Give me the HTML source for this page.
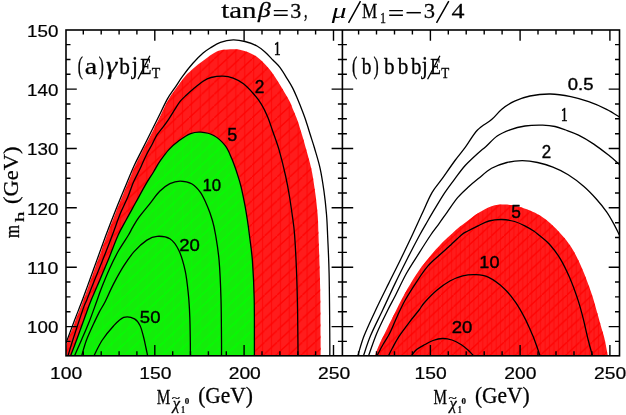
<!DOCTYPE html><html><head><meta charset="utf-8"><style>html,body{margin:0;padding:0;background:#fff}svg{display:block}text{fill:#000}</style></head><body>
<svg width="626" height="415" viewBox="0 0 626 415">
<defs>
<pattern id="hr" width="8.9" height="9" patternUnits="userSpaceOnUse">
<rect width="8.9" height="9" fill="#ff1c1c"/>
<path d="M4.5,0V9" stroke="#ff0a0a" stroke-width="1.2"/>
</pattern>
<pattern id="hrb" width="4.45" height="9" patternUnits="userSpaceOnUse">
<rect width="4.45" height="9" fill="#ff1c1c"/>
<path d="M2.2,0V9" stroke="#ff0c0c" stroke-width="1.1"/>
</pattern>
<pattern id="hrd" width="12.6" height="11.8" patternUnits="userSpaceOnUse">
<path d="M-1.26,12.98L13.86,-1.18" stroke="#ff0202" stroke-width="1.3" fill="none"/>
</pattern>
<pattern id="hg" width="8.9" height="9" patternUnits="userSpaceOnUse">
<rect width="8.9" height="9" fill="#14ec0a"/>
<path d="M4.5,0V9" stroke="#0cf406" stroke-width="1.2"/>
</pattern>
<pattern id="hgd" width="12.6" height="11.8" patternUnits="userSpaceOnUse">
<path d="M-1.26,12.98L13.86,-1.18" stroke="#03fd01" stroke-width="1.3" fill="none"/>
</pattern>
<clipPath id="ca"><rect x="66.0" y="30.0" width="276.4" height="325.8"/></clipPath>
<clipPath id="cb"><rect x="342.4" y="30.0" width="277.1" height="325.8"/></clipPath>
</defs>
<rect width="626" height="415" fill="#fff"/>
<g clip-path="url(#ca)">
<path d="M66.5,356.0 C66.6,353.8 65.6,348.7 67.0,343.0 C68.4,337.3 72.3,328.9 75.0,321.7 C77.7,314.5 81.2,305.9 83.4,300.0 C85.7,294.1 86.1,292.7 88.5,286.1 C90.9,279.5 94.6,269.1 97.7,260.6 C100.8,252.1 103.8,243.6 107.0,235.0 C110.2,226.4 113.9,216.9 117.0,209.2 C120.1,201.5 122.4,196.0 125.4,188.8 C128.4,181.6 132.2,172.2 135.1,165.8 C138.0,159.4 139.8,156.4 142.8,150.4 C145.8,144.4 150.3,136.0 153.3,130.0 C156.3,124.0 158.4,119.6 160.9,114.5 C163.4,109.4 166.0,103.8 168.6,99.3 C171.2,94.8 173.7,91.5 176.4,87.8 C179.1,84.1 182.2,79.8 184.6,77.0 C187.0,74.2 188.6,72.9 190.8,70.8 C193.0,68.7 195.1,66.9 198.0,64.6 C200.9,62.3 205.4,59.0 208.2,57.0 C211.0,55.0 212.5,53.7 215.0,52.5 C217.5,51.3 219.5,50.3 223.0,49.8 C226.5,49.2 232.4,49.0 235.8,49.2 C239.2,49.4 240.7,49.8 243.7,50.8 C246.7,51.8 250.9,53.3 253.9,55.0 C256.9,56.7 259.2,58.6 261.8,61.0 C264.4,63.4 267.1,66.2 269.7,69.4 C272.3,72.6 274.8,76.4 277.3,80.4 C279.9,84.4 282.9,89.6 285.0,93.2 C287.1,96.8 288.8,99.6 290.1,102.2 C291.4,104.8 291.6,105.9 292.8,109.0 C294.1,112.1 296.1,116.5 297.6,120.8 C299.1,125.1 300.6,130.3 302.0,134.8 C303.4,139.3 304.2,142.2 305.7,147.8 C307.2,153.4 309.6,161.1 311.2,168.3 C312.8,175.6 313.9,183.6 315.0,191.3 C316.1,199.0 317.0,207.0 317.6,214.3 C318.2,221.6 318.1,223.0 318.5,235.0 C318.9,247.0 319.8,268.6 320.1,286.1 C320.5,303.6 320.5,328.4 320.6,340.0 C320.7,351.6 320.6,353.3 320.6,356.0 Z" fill="url(#hr)"/><path d="M66.5,356.0 C66.6,353.8 65.6,348.7 67.0,343.0 C68.4,337.3 72.3,328.9 75.0,321.7 C77.7,314.5 81.2,305.9 83.4,300.0 C85.7,294.1 86.1,292.7 88.5,286.1 C90.9,279.5 94.6,269.1 97.7,260.6 C100.8,252.1 103.8,243.6 107.0,235.0 C110.2,226.4 113.9,216.9 117.0,209.2 C120.1,201.5 122.4,196.0 125.4,188.8 C128.4,181.6 132.2,172.2 135.1,165.8 C138.0,159.4 139.8,156.4 142.8,150.4 C145.8,144.4 150.3,136.0 153.3,130.0 C156.3,124.0 158.4,119.6 160.9,114.5 C163.4,109.4 166.0,103.8 168.6,99.3 C171.2,94.8 173.7,91.5 176.4,87.8 C179.1,84.1 182.2,79.8 184.6,77.0 C187.0,74.2 188.6,72.9 190.8,70.8 C193.0,68.7 195.1,66.9 198.0,64.6 C200.9,62.3 205.4,59.0 208.2,57.0 C211.0,55.0 212.5,53.7 215.0,52.5 C217.5,51.3 219.5,50.3 223.0,49.8 C226.5,49.2 232.4,49.0 235.8,49.2 C239.2,49.4 240.7,49.8 243.7,50.8 C246.7,51.8 250.9,53.3 253.9,55.0 C256.9,56.7 259.2,58.6 261.8,61.0 C264.4,63.4 267.1,66.2 269.7,69.4 C272.3,72.6 274.8,76.4 277.3,80.4 C279.9,84.4 282.9,89.6 285.0,93.2 C287.1,96.8 288.8,99.6 290.1,102.2 C291.4,104.8 291.6,105.9 292.8,109.0 C294.1,112.1 296.1,116.5 297.6,120.8 C299.1,125.1 300.6,130.3 302.0,134.8 C303.4,139.3 304.2,142.2 305.7,147.8 C307.2,153.4 309.6,161.1 311.2,168.3 C312.8,175.6 313.9,183.6 315.0,191.3 C316.1,199.0 317.0,207.0 317.6,214.3 C318.2,221.6 318.1,223.0 318.5,235.0 C318.9,247.0 319.8,268.6 320.1,286.1 C320.5,303.6 320.5,328.4 320.6,340.0 C320.7,351.6 320.6,353.3 320.6,356.0 Z" fill="url(#hrd)"/>
<path d="M70.6,355.7 C71.6,353.1 73.9,347.3 76.6,340.0 C79.3,332.7 84.4,318.4 86.8,311.7 C89.2,305.0 89.5,304.3 91.2,300.0 C92.9,295.7 94.4,292.7 97.2,286.1 C100.0,279.5 104.5,269.1 108.0,260.6 C111.5,252.1 115.1,241.8 118.2,235.0 C121.3,228.2 123.5,224.9 126.4,219.5 C129.3,214.1 132.3,208.8 135.6,202.8 C138.9,196.8 143.2,188.8 146.2,183.7 C149.2,178.6 151.2,175.8 153.5,172.0 C155.8,168.2 157.4,164.9 160.0,161.2 C162.6,157.5 165.7,153.0 168.9,149.6 C172.1,146.2 175.6,143.3 179.2,140.6 C182.8,137.9 187.1,135.0 190.7,133.6 C194.3,132.2 197.1,131.9 200.9,132.2 C204.7,132.5 209.6,133.3 213.7,135.5 C217.8,137.7 222.2,141.8 225.2,145.6 C228.2,149.4 229.7,153.9 231.6,158.3 C233.5,162.7 235.1,167.3 236.7,172.0 C238.2,176.7 239.6,180.8 240.9,186.2 C242.2,191.5 243.6,198.5 244.7,204.1 C245.8,209.7 246.5,214.3 247.3,219.5 C248.1,224.7 248.6,228.2 249.4,235.0 C250.2,241.8 251.6,250.0 252.4,260.6 C253.2,271.2 253.9,285.7 254.2,298.9 C254.5,312.1 254.4,330.5 254.4,340.0 C254.4,349.5 254.4,353.3 254.4,356.0 Z" fill="url(#hg)"/><path d="M70.6,355.7 C71.6,353.1 73.9,347.3 76.6,340.0 C79.3,332.7 84.4,318.4 86.8,311.7 C89.2,305.0 89.5,304.3 91.2,300.0 C92.9,295.7 94.4,292.7 97.2,286.1 C100.0,279.5 104.5,269.1 108.0,260.6 C111.5,252.1 115.1,241.8 118.2,235.0 C121.3,228.2 123.5,224.9 126.4,219.5 C129.3,214.1 132.3,208.8 135.6,202.8 C138.9,196.8 143.2,188.8 146.2,183.7 C149.2,178.6 151.2,175.8 153.5,172.0 C155.8,168.2 157.4,164.9 160.0,161.2 C162.6,157.5 165.7,153.0 168.9,149.6 C172.1,146.2 175.6,143.3 179.2,140.6 C182.8,137.9 187.1,135.0 190.7,133.6 C194.3,132.2 197.1,131.9 200.9,132.2 C204.7,132.5 209.6,133.3 213.7,135.5 C217.8,137.7 222.2,141.8 225.2,145.6 C228.2,149.4 229.7,153.9 231.6,158.3 C233.5,162.7 235.1,167.3 236.7,172.0 C238.2,176.7 239.6,180.8 240.9,186.2 C242.2,191.5 243.6,198.5 244.7,204.1 C245.8,209.7 246.5,214.3 247.3,219.5 C248.1,224.7 248.6,228.2 249.4,235.0 C250.2,241.8 251.6,250.0 252.4,260.6 C253.2,271.2 253.9,285.7 254.2,298.9 C254.5,312.1 254.4,330.5 254.4,340.0 C254.4,349.5 254.4,353.3 254.4,356.0 Z" fill="url(#hgd)"/>
<path d="M66.0,343.0 C67.3,339.4 71.3,328.9 74.0,321.7 C76.7,314.5 80.2,305.9 82.4,300.0 C84.7,294.1 85.1,292.7 87.5,286.1 C89.9,279.5 93.6,269.1 96.7,260.6 C99.8,252.1 102.8,243.6 106.0,235.0 C109.2,226.4 112.9,216.9 116.0,209.2 C119.1,201.5 121.4,196.0 124.4,188.8 C127.4,181.6 131.2,172.2 134.1,165.8 C137.0,159.4 138.8,156.4 141.8,150.4 C144.8,144.4 149.0,136.0 152.0,130.0 C155.0,124.0 157.1,119.7 159.7,114.5 C162.2,109.3 164.8,103.6 167.3,99.1 C169.9,94.6 172.4,91.4 175.0,87.6 C177.6,83.8 179.7,80.1 182.7,76.1 C185.7,72.0 189.5,67.1 192.9,63.3 C196.3,59.5 200.2,55.6 203.1,53.1 C206.0,50.6 207.3,49.8 210.2,48.0 C213.1,46.2 216.6,43.8 220.4,42.4 C224.2,41.0 229.1,40.0 233.2,39.9 C237.3,39.8 241.0,40.5 245.0,41.5 C249.0,42.5 253.7,44.2 257.0,46.0 C260.3,47.8 262.4,49.7 265.0,52.0 C267.6,54.3 270.4,57.4 272.9,60.0 C275.4,62.6 277.7,64.5 279.9,67.4 C282.1,70.3 284.2,73.8 286.3,77.3 C288.4,80.8 290.8,84.4 292.7,88.1 C294.6,91.8 296.4,96.3 297.8,99.6 C299.2,102.9 299.9,104.5 301.2,108.0 C302.5,111.5 304.4,116.3 305.9,120.8 C307.4,125.3 308.9,130.3 310.3,134.8 C311.7,139.3 312.8,142.2 314.4,147.8 C316.0,153.4 318.5,161.1 320.1,168.3 C321.7,175.6 322.9,183.6 324.0,191.3 C325.1,199.0 325.9,207.0 326.5,214.3 C327.1,221.6 327.2,225.2 327.6,235.0 C328.0,244.8 328.7,255.8 329.1,273.3 C329.5,290.8 329.7,326.2 329.8,340.0 C329.9,353.8 329.8,353.3 329.8,356.0" fill="none" stroke="#000" stroke-width="1.3"/>
<path d="M68.0,355.7 C68.8,353.1 70.3,347.8 72.8,340.0 C75.3,332.2 80.7,315.8 83.0,309.1 C85.3,302.4 85.1,304.2 86.8,300.0 C88.5,295.8 90.4,290.6 93.2,283.6 C96.0,276.6 100.3,266.1 103.5,258.0 C106.7,249.9 109.7,242.3 112.4,235.0 C115.2,227.7 117.4,220.7 120.0,214.3 C122.6,207.9 125.7,202.2 127.9,196.8 C130.2,191.4 131.5,186.7 133.5,182.1 C135.5,177.5 137.7,173.8 139.8,169.3 C141.9,164.8 144.1,159.4 146.2,155.2 C148.3,151.0 150.5,147.4 152.3,144.0 C154.1,140.6 155.4,137.2 157.1,134.6 C158.8,132.0 160.3,130.8 162.2,128.2 C164.1,125.6 166.5,122.5 168.6,119.3 C170.7,116.1 173.1,112.1 175.0,109.1 C176.9,106.1 178.2,103.8 180.1,101.4 C182.0,99.1 184.3,97.1 186.5,95.0 C188.7,92.9 190.7,91.0 193.5,88.7 C196.3,86.4 200.2,83.1 203.1,81.2 C206.0,79.3 207.7,78.3 211.0,77.5 C214.3,76.7 219.3,76.0 223.0,76.1 C226.7,76.2 229.8,76.9 233.2,78.2 C236.6,79.5 240.1,81.2 243.5,83.8 C246.9,86.4 250.7,90.6 253.7,94.0 C256.7,97.4 259.0,100.4 261.3,104.2 C263.6,108.0 265.9,112.7 267.7,117.0 C269.5,121.3 270.4,124.4 272.3,130.0 C274.2,135.6 277.0,142.7 279.2,150.4 C281.4,158.1 283.9,168.3 285.6,176.0 C287.3,183.7 288.4,189.7 289.5,196.5 C290.6,203.3 291.6,210.5 292.5,216.9 C293.4,223.3 293.9,225.6 294.6,235.0 C295.3,244.4 296.1,260.5 296.6,273.3 C297.1,286.1 297.4,300.6 297.6,311.7 C297.8,322.8 297.8,332.6 297.9,340.0 C298.0,347.4 298.0,353.3 298.0,356.0" fill="none" stroke="#000" stroke-width="1.3"/>
<path d="M70.6,355.7 C71.6,353.1 73.9,347.3 76.6,340.0 C79.3,332.7 84.4,318.4 86.8,311.7 C89.2,305.0 89.5,304.3 91.2,300.0 C92.9,295.7 94.4,292.7 97.2,286.1 C100.0,279.5 104.5,269.1 108.0,260.6 C111.5,252.1 115.1,241.8 118.2,235.0 C121.3,228.2 123.5,224.9 126.4,219.5 C129.3,214.1 132.3,208.8 135.6,202.8 C138.9,196.8 143.2,188.8 146.2,183.7 C149.2,178.6 151.2,175.8 153.5,172.0 C155.8,168.2 157.4,164.9 160.0,161.2 C162.6,157.5 165.7,153.0 168.9,149.6 C172.1,146.2 175.6,143.3 179.2,140.6 C182.8,137.9 187.1,135.0 190.7,133.6 C194.3,132.2 197.1,131.9 200.9,132.2 C204.7,132.5 209.6,133.3 213.7,135.5 C217.8,137.7 222.2,141.8 225.2,145.6 C228.2,149.4 229.7,153.9 231.6,158.3 C233.5,162.7 235.1,167.3 236.7,172.0 C238.2,176.7 239.6,180.8 240.9,186.2 C242.2,191.5 243.6,198.5 244.7,204.1 C245.8,209.7 246.5,214.3 247.3,219.5 C248.1,224.7 248.6,228.2 249.4,235.0 C250.2,241.8 251.6,250.0 252.4,260.6 C253.2,271.2 253.9,285.7 254.2,298.9 C254.5,312.1 254.4,330.5 254.4,340.0 C254.4,349.5 254.4,353.3 254.4,356.0" fill="none" stroke="#000" stroke-width="1.3"/>
<path d="M74.5,355.7 C75.7,353.0 79.2,345.3 81.7,339.5 C84.2,333.7 86.9,327.6 89.5,321.0 C92.1,314.4 95.2,305.4 97.2,300.0 C99.2,294.6 99.1,294.0 101.2,288.7 C103.3,283.4 106.9,274.6 109.8,268.2 C112.7,261.8 115.7,255.8 118.8,250.3 C121.9,244.8 126.2,238.9 128.5,235.0 C130.8,231.1 131.0,230.1 132.8,227.1 C134.6,224.1 136.4,220.7 139.2,216.9 C142.0,213.1 146.1,208.4 149.5,204.1 C152.9,199.8 156.3,194.7 159.7,191.3 C163.1,187.9 166.5,185.4 169.9,183.7 C173.3,182.0 176.5,181.1 180.1,181.1 C183.7,181.1 188.2,181.8 191.6,183.7 C195.0,185.6 198.0,188.9 200.6,192.6 C203.2,196.3 205.3,201.3 207.3,206.0 C209.3,210.7 211.1,215.9 212.5,220.7 C213.9,225.5 214.5,228.3 215.6,235.0 C216.7,241.7 218.2,250.0 219.1,260.6 C220.0,271.2 220.6,285.7 221.0,298.9 C221.4,312.1 221.4,330.5 221.5,340.0 C221.6,349.5 221.5,353.3 221.5,356.0" fill="none" stroke="#000" stroke-width="1.3"/>
<path d="M81.7,355.7 C82.5,353.1 84.4,345.6 86.5,340.0 C88.6,334.4 92.3,326.6 94.5,321.9 C96.7,317.2 97.8,314.9 99.5,311.6 C101.2,308.3 102.6,306.7 105.0,302.0 C107.4,297.3 110.5,289.7 113.7,283.6 C116.9,277.6 120.5,271.0 123.9,265.7 C127.3,260.4 130.3,255.9 134.1,251.6 C137.9,247.3 143.1,242.6 146.9,240.1 C150.7,237.6 153.3,236.5 157.1,236.3 C160.9,236.1 166.3,236.5 169.9,238.8 C173.5,241.1 176.2,245.0 178.8,250.3 C181.4,255.6 183.6,263.6 185.2,270.8 C186.8,278.1 187.5,286.1 188.3,293.8 C189.1,301.5 189.5,309.1 189.8,316.8 C190.1,324.5 190.2,333.5 190.3,340.0 C190.4,346.5 190.4,353.3 190.4,356.0" fill="none" stroke="#000" stroke-width="1.3"/>
<path d="M94.0,355.7 C95.3,353.2 98.8,345.4 102.0,340.5 C105.2,335.6 109.9,329.9 113.5,326.0 C117.1,322.1 120.2,318.6 123.7,317.4 C127.2,316.2 131.8,317.4 134.5,318.8 C137.2,320.2 138.4,322.3 140.0,325.5 C141.6,328.7 142.8,334.2 143.8,338.0 C144.8,341.8 145.3,345.0 146.0,348.0 C146.7,351.0 147.4,354.7 147.7,356.0" fill="none" stroke="#000" stroke-width="1.3"/>
</g>
<g clip-path="url(#cb)">
<path d="M375.0,355.7 C375.5,354.2 376.3,351.3 378.2,347.0 C380.1,342.7 383.5,336.0 386.5,329.8 C389.5,323.6 392.8,316.9 396.3,310.0 C399.8,303.1 403.9,295.2 407.6,288.6 C411.4,282.1 414.9,276.3 418.8,270.7 C422.7,265.1 427.5,259.4 431.1,255.0 C434.7,250.6 437.4,247.8 440.5,244.5 C443.6,241.2 447.0,238.2 449.9,235.5 C452.8,232.8 454.6,230.9 457.6,228.4 C460.6,225.9 464.3,223.3 467.8,220.7 C471.3,218.1 474.4,215.4 478.4,213.0 C482.4,210.6 487.3,207.6 491.6,206.2 C495.9,204.8 500.1,204.6 504.3,204.6 C508.6,204.6 512.8,205.2 517.1,206.2 C521.4,207.2 526.1,208.9 529.9,210.5 C533.7,212.1 536.7,213.5 540.1,215.6 C543.5,217.7 546.7,220.1 550.3,223.3 C553.9,226.5 558.4,231.1 561.8,235.0 C565.2,238.9 568.0,242.2 570.8,246.5 C573.6,250.8 576.0,255.3 578.5,260.6 C581.0,265.9 583.8,272.4 586.1,278.4 C588.4,284.3 590.6,290.3 592.5,296.3 C594.4,302.3 595.9,308.2 597.6,314.2 C599.3,320.2 601.5,327.8 602.7,332.1 C603.9,336.4 603.9,336.0 604.8,340.0 C605.7,344.0 607.4,353.3 607.9,356.0 Z" fill="url(#hrb)"/><path d="M375.0,355.7 C375.5,354.2 376.3,351.3 378.2,347.0 C380.1,342.7 383.5,336.0 386.5,329.8 C389.5,323.6 392.8,316.9 396.3,310.0 C399.8,303.1 403.9,295.2 407.6,288.6 C411.4,282.1 414.9,276.3 418.8,270.7 C422.7,265.1 427.5,259.4 431.1,255.0 C434.7,250.6 437.4,247.8 440.5,244.5 C443.6,241.2 447.0,238.2 449.9,235.5 C452.8,232.8 454.6,230.9 457.6,228.4 C460.6,225.9 464.3,223.3 467.8,220.7 C471.3,218.1 474.4,215.4 478.4,213.0 C482.4,210.6 487.3,207.6 491.6,206.2 C495.9,204.8 500.1,204.6 504.3,204.6 C508.6,204.6 512.8,205.2 517.1,206.2 C521.4,207.2 526.1,208.9 529.9,210.5 C533.7,212.1 536.7,213.5 540.1,215.6 C543.5,217.7 546.7,220.1 550.3,223.3 C553.9,226.5 558.4,231.1 561.8,235.0 C565.2,238.9 568.0,242.2 570.8,246.5 C573.6,250.8 576.0,255.3 578.5,260.6 C581.0,265.9 583.8,272.4 586.1,278.4 C588.4,284.3 590.6,290.3 592.5,296.3 C594.4,302.3 595.9,308.2 597.6,314.2 C599.3,320.2 601.5,327.8 602.7,332.1 C603.9,336.4 603.9,336.0 604.8,340.0 C605.7,344.0 607.4,353.3 607.9,356.0 Z" fill="url(#hrd)"/>
<path d="M357.8,355.7 C358.9,352.4 361.2,343.2 364.2,335.6 C367.2,328.0 371.6,318.7 375.7,310.0 C379.8,301.3 384.3,292.3 388.6,283.6 C392.9,274.9 397.4,266.1 401.3,258.0 C405.2,249.9 408.9,242.3 412.3,235.0 C415.7,227.7 418.5,221.4 421.8,214.3 C425.1,207.2 428.6,198.5 432.0,192.6 C435.4,186.7 438.4,184.0 442.2,178.7 C446.0,173.3 451.2,165.7 455.0,160.5 C458.8,155.3 461.4,152.5 465.2,147.4 C468.9,142.3 473.1,134.6 477.5,130.0 C481.9,125.4 487.6,123.0 491.6,119.6 C495.7,116.1 498.0,112.4 501.8,109.3 C505.6,106.2 509.9,103.4 514.6,101.2 C519.3,99.0 524.0,97.2 529.9,96.0 C535.8,94.8 543.5,93.9 550.3,94.0 C557.1,94.1 564.4,95.3 570.8,96.6 C577.2,97.9 582.7,99.6 588.7,101.7 C594.7,103.8 601.5,106.8 606.6,109.3 C611.7,111.8 617.3,115.7 619.4,117.0" fill="none" stroke="#000" stroke-width="1.3"/>
<path d="M363.5,355.7 C364.7,352.4 367.4,343.2 370.6,335.6 C373.8,328.0 378.6,318.7 382.7,310.0 C386.8,301.3 390.8,292.3 395.0,283.6 C399.2,274.9 403.6,266.1 407.7,258.0 C411.8,249.9 416.7,240.6 419.7,235.0 C422.7,229.4 423.1,228.9 425.6,224.6 C428.1,220.3 431.4,214.5 434.6,209.2 C437.8,203.9 441.4,197.7 444.8,192.6 C448.2,187.5 451.6,183.1 455.0,178.6 C458.4,174.1 461.4,169.7 465.2,165.5 C469.0,161.3 474.5,156.4 478.0,153.2 C481.5,150.0 482.8,149.3 486.0,146.4 C489.2,143.5 493.2,138.8 497.2,136.0 C501.2,133.2 505.4,131.5 510.0,129.8 C514.6,128.1 519.5,126.8 525.0,126.0 C530.5,125.2 537.7,125.1 542.7,125.2 C547.7,125.3 551.2,125.7 555.0,126.5 C558.8,127.3 561.8,128.6 565.7,130.0 C569.6,131.4 573.8,132.8 578.5,135.1 C583.2,137.4 588.7,140.7 593.8,144.1 C598.9,147.5 604.8,152.2 609.1,155.6 C613.4,159.0 617.7,163.0 619.4,164.5" fill="none" stroke="#000" stroke-width="1.3"/>
<path d="M368.6,355.7 C370.0,351.9 373.7,340.6 376.9,333.0 C380.1,325.4 384.8,316.1 387.8,310.0 C390.8,303.9 391.9,302.4 395.0,296.3 C398.1,290.2 402.5,280.5 406.5,273.3 C410.5,266.1 415.2,259.3 419.2,252.9 C423.2,246.5 427.5,239.7 430.7,235.0 C433.9,230.3 435.6,228.5 438.4,224.6 C441.2,220.7 444.2,216.3 447.4,211.8 C450.6,207.3 454.2,201.8 457.6,197.7 C461.0,193.6 464.3,190.7 467.8,187.5 C471.3,184.3 474.4,181.7 478.4,178.5 C482.4,175.3 486.9,171.0 491.6,168.3 C496.4,165.6 501.8,163.8 506.9,162.5 C512.0,161.2 517.1,160.7 522.2,160.7 C527.3,160.7 532.5,161.4 537.6,162.5 C542.7,163.6 547.8,165.1 552.9,167.1 C558.0,169.1 563.1,171.5 568.2,174.7 C573.3,177.9 578.9,182.1 583.6,186.2 C588.3,190.2 592.5,194.7 596.3,199.0 C600.1,203.3 603.6,207.5 606.6,211.8 C609.6,216.1 612.1,220.7 614.2,224.6 C616.3,228.5 618.5,233.3 619.4,235.0" fill="none" stroke="#000" stroke-width="1.3"/>
<path d="M377.0,355.7 C378.1,353.8 381.2,347.7 383.3,344.0 C385.4,340.3 387.3,338.1 389.7,333.3 C392.1,328.5 395.0,321.0 397.6,315.4 C400.2,309.8 402.2,305.3 405.4,299.7 C408.6,294.1 412.9,287.4 416.6,281.8 C420.3,276.2 423.9,270.8 427.8,266.2 C431.7,261.6 436.7,257.7 440.1,254.5 C443.6,251.3 444.9,250.2 448.5,247.0 C452.1,243.8 458.2,237.7 461.4,235.0 C464.6,232.3 465.0,232.5 467.8,231.0 C470.6,229.5 474.5,227.5 478.0,225.8 C481.5,224.1 485.0,222.1 489.0,221.0 C493.0,219.9 497.5,219.4 501.8,219.5 C506.1,219.6 510.8,220.4 514.6,221.5 C518.4,222.6 521.6,224.2 524.8,225.8 C528.0,227.4 531.4,229.5 533.7,231.0 C536.0,232.5 536.0,232.6 538.8,235.0 C541.6,237.4 546.7,241.1 550.3,245.2 C553.9,249.2 557.4,254.0 560.6,259.3 C563.8,264.6 566.7,270.8 569.5,277.2 C572.3,283.6 574.9,290.8 577.2,297.6 C579.5,304.4 581.3,311.0 583.1,318.1 C584.9,325.2 586.6,333.7 588.2,340.0 C589.8,346.3 591.8,353.3 592.5,356.0" fill="none" stroke="#000" stroke-width="1.3"/>
<path d="M388.5,355.7 C389.1,354.5 390.6,351.4 392.3,348.3 C394.0,345.2 395.9,341.1 398.7,336.8 C401.5,332.6 405.5,327.3 408.9,322.8 C412.3,318.3 416.5,313.4 419.1,310.0 C421.7,306.6 421.3,306.0 424.3,302.7 C427.3,299.4 432.8,293.6 437.1,290.0 C441.4,286.4 445.6,283.4 449.9,281.0 C454.2,278.6 458.4,277.0 462.7,275.9 C467.0,274.8 471.2,274.4 475.5,274.6 C479.8,274.8 483.4,274.9 488.2,277.2 C493.0,279.5 499.7,284.4 504.3,288.7 C508.9,292.9 512.4,297.8 515.8,302.7 C519.2,307.6 522.2,313.2 524.8,318.1 C527.4,323.0 529.6,328.5 531.2,332.1 C532.8,335.8 533.0,336.0 534.5,340.0 C536.0,344.0 539.2,353.3 540.1,356.0" fill="none" stroke="#000" stroke-width="1.3"/>
<path d="M411.5,355.7 C412.4,354.7 414.4,351.5 416.6,349.6 C418.9,347.7 422.3,346.0 425.0,344.5 C427.7,343.0 430.1,341.5 433.0,340.5 C435.9,339.5 439.3,338.6 442.5,338.5 C445.7,338.4 448.9,339.0 452.0,340.0 C455.1,341.0 458.3,342.8 461.0,344.5 C463.7,346.2 465.9,348.1 468.0,350.0 C470.1,351.9 472.6,354.8 473.5,355.7" fill="none" stroke="#000" stroke-width="1.3"/>
</g>
<g stroke="#000" stroke-width="1.6" fill="none">
<rect x="66.0" y="30.0" width="553.5" height="325.8"/>
<path d="M342.4,30.0V355.8"/>
</g>
<path d="M66.0,341.4h4.5M337.9,341.4h9.0M615.0,341.4h4.5M66.0,326.6h10.8M331.6,326.6h21.6M608.7,326.6h10.8M66.0,311.7h4.5M337.9,311.7h9.0M615.0,311.7h4.5M66.0,296.9h4.5M337.9,296.9h9.0M615.0,296.9h4.5M66.0,282.0h4.5M337.9,282.0h9.0M615.0,282.0h4.5M66.0,267.2h10.8M331.6,267.2h21.6M608.7,267.2h10.8M66.0,252.4h4.5M337.9,252.4h9.0M615.0,252.4h4.5M66.0,237.5h4.5M337.9,237.5h9.0M615.0,237.5h4.5M66.0,222.7h4.5M337.9,222.7h9.0M615.0,222.7h4.5M66.0,207.8h10.8M331.6,207.8h21.6M608.7,207.8h10.8M66.0,193.0h4.5M337.9,193.0h9.0M615.0,193.0h4.5M66.0,178.2h4.5M337.9,178.2h9.0M615.0,178.2h4.5M66.0,163.3h4.5M337.9,163.3h9.0M615.0,163.3h4.5M66.0,148.5h10.8M331.6,148.5h21.6M608.7,148.5h10.8M66.0,133.7h4.5M337.9,133.7h9.0M615.0,133.7h4.5M66.0,118.8h4.5M337.9,118.8h9.0M615.0,118.8h4.5M66.0,104.0h4.5M337.9,104.0h9.0M615.0,104.0h4.5M66.0,89.1h10.8M331.6,89.1h21.6M608.7,89.1h10.8M66.0,74.3h4.5M337.9,74.3h9.0M615.0,74.3h4.5M66.0,59.5h4.5M337.9,59.5h9.0M615.0,59.5h4.5M66.0,44.6h4.5M337.9,44.6h9.0M615.0,44.6h4.5M83.3,30.0v4.5M83.3,355.8v-4.5M101.2,30.0v4.5M101.2,355.8v-4.5M119.1,30.0v4.5M119.1,355.8v-4.5M136.9,30.0v4.5M136.9,355.8v-4.5M154.8,30.0v10.8M154.8,355.8v-10.8M172.7,30.0v4.5M172.7,355.8v-4.5M190.5,30.0v4.5M190.5,355.8v-4.5M208.4,30.0v4.5M208.4,355.8v-4.5M226.3,30.0v4.5M226.3,355.8v-4.5M244.1,30.0v10.8M244.1,355.8v-10.8M262.0,30.0v4.5M262.0,355.8v-4.5M279.9,30.0v4.5M279.9,355.8v-4.5M297.8,30.0v4.5M297.8,355.8v-4.5M315.6,30.0v4.5M315.6,355.8v-4.5M333.5,30.0v10.8M333.5,355.8v-10.8M358.6,30.0v4.5M358.6,355.8v-4.5M376.5,30.0v4.5M376.5,355.8v-4.5M394.5,30.0v4.5M394.5,355.8v-4.5M412.4,30.0v4.5M412.4,355.8v-4.5M430.4,30.0v10.8M430.4,355.8v-10.8M448.3,30.0v4.5M448.3,355.8v-4.5M466.2,30.0v4.5M466.2,355.8v-4.5M484.2,30.0v4.5M484.2,355.8v-4.5M502.1,30.0v4.5M502.1,355.8v-4.5M520.1,30.0v10.8M520.1,355.8v-10.8M538.0,30.0v4.5M538.0,355.8v-4.5M556.0,30.0v4.5M556.0,355.8v-4.5M574.0,30.0v4.5M574.0,355.8v-4.5M591.9,30.0v4.5M591.9,355.8v-4.5M609.9,30.0v10.8M609.9,355.8v-10.8" stroke="#000" stroke-width="1.4" fill="none"/>
<g opacity="0.999">
<text transform="matrix(0.1877,0,0,0.1724,27.10,36.73)" font-family="Liberation Sans" font-size="100" stroke="#000" stroke-width="0.25" vector-effect="non-scaling-stroke" stroke-linejoin="round">150</text>
<text transform="matrix(0.1877,0,0,0.1724,27.10,96.08)" font-family="Liberation Sans" font-size="100" stroke="#000" stroke-width="0.25" vector-effect="non-scaling-stroke" stroke-linejoin="round">140</text>
<text transform="matrix(0.1877,0,0,0.1724,27.10,155.43)" font-family="Liberation Sans" font-size="100" stroke="#000" stroke-width="0.25" vector-effect="non-scaling-stroke" stroke-linejoin="round">130</text>
<text transform="matrix(0.1877,0,0,0.1724,27.10,214.78)" font-family="Liberation Sans" font-size="100" stroke="#000" stroke-width="0.25" vector-effect="non-scaling-stroke" stroke-linejoin="round">120</text>
<text transform="matrix(0.1962,0,0,0.1724,27.10,274.13)" font-family="Liberation Sans" font-size="100" stroke="#000" stroke-width="0.25" vector-effect="non-scaling-stroke" stroke-linejoin="round">110</text>
<text transform="matrix(0.1877,0,0,0.1724,27.10,333.48)" font-family="Liberation Sans" font-size="100" stroke="#000" stroke-width="0.25" vector-effect="non-scaling-stroke" stroke-linejoin="round">100</text>
<text transform="matrix(0.1931,0,0,0.1724,49.95,379.33)" font-family="Liberation Sans" font-size="100" stroke="#000" stroke-width="0.25" vector-effect="non-scaling-stroke" stroke-linejoin="round">100</text>
<text transform="matrix(0.1931,0,0,0.1724,139.30,379.33)" font-family="Liberation Sans" font-size="100" stroke="#000" stroke-width="0.25" vector-effect="non-scaling-stroke" stroke-linejoin="round">150</text>
<text transform="matrix(0.1931,0,0,0.1724,228.65,379.33)" font-family="Liberation Sans" font-size="100" stroke="#000" stroke-width="0.25" vector-effect="non-scaling-stroke" stroke-linejoin="round">200</text>
<text transform="matrix(0.1931,0,0,0.1724,318.00,379.33)" font-family="Liberation Sans" font-size="100" stroke="#000" stroke-width="0.25" vector-effect="non-scaling-stroke" stroke-linejoin="round">250</text>
<text transform="matrix(0.1931,0,0,0.1724,414.55,379.33)" font-family="Liberation Sans" font-size="100" stroke="#000" stroke-width="0.25" vector-effect="non-scaling-stroke" stroke-linejoin="round">150</text>
<text transform="matrix(0.1931,0,0,0.1724,504.30,379.33)" font-family="Liberation Sans" font-size="100" stroke="#000" stroke-width="0.25" vector-effect="non-scaling-stroke" stroke-linejoin="round">200</text>
<text transform="matrix(0.1931,0,0,0.1724,594.05,379.33)" font-family="Liberation Sans" font-size="100" stroke="#000" stroke-width="0.25" vector-effect="non-scaling-stroke" stroke-linejoin="round">250</text>
<text transform="matrix(0.1320,0,0,0.1781,274.00,55.38)" font-family="Liberation Serif" font-size="100" stroke="#000" stroke-width="0.60" vector-effect="non-scaling-stroke" stroke-linejoin="round">1</text>
<text transform="matrix(0.1732,0,0,0.1750,254.64,93.30)" font-family="Liberation Sans" font-size="100" stroke="#000" stroke-width="0.40" vector-effect="non-scaling-stroke" stroke-linejoin="round">2</text>
<text transform="matrix(0.1790,0,0,0.1750,227.23,141.03)" font-family="Liberation Sans" font-size="100" stroke="#000" stroke-width="0.40" vector-effect="non-scaling-stroke" stroke-linejoin="round">5</text>
<text transform="matrix(0.1679,0,0,0.1725,202.41,191.23)" font-family="Liberation Sans" font-size="100" stroke="#000" stroke-width="0.40" vector-effect="non-scaling-stroke" stroke-linejoin="round">10</text>
<text transform="matrix(0.1854,0,0,0.1709,179.14,250.92)" font-family="Liberation Sans" font-size="100" stroke="#000" stroke-width="0.40" vector-effect="non-scaling-stroke" stroke-linejoin="round">20</text>
<text transform="matrix(0.1854,0,0,0.1709,139.84,322.72)" font-family="Liberation Sans" font-size="100" stroke="#000" stroke-width="0.40" vector-effect="non-scaling-stroke" stroke-linejoin="round">50</text>
<text transform="matrix(0.1849,0,0,0.1693,567.75,90.22)" font-family="Liberation Sans" font-size="100" stroke="#000" stroke-width="0.40" vector-effect="non-scaling-stroke" stroke-linejoin="round">0.5</text>
<text transform="matrix(0.1320,0,0,0.1815,561.10,120.59)" font-family="Liberation Serif" font-size="100" stroke="#000" stroke-width="0.60" vector-effect="non-scaling-stroke" stroke-linejoin="round">1</text>
<text transform="matrix(0.1693,0,0,0.1750,541.85,158.30)" font-family="Liberation Sans" font-size="100" stroke="#000" stroke-width="0.40" vector-effect="non-scaling-stroke" stroke-linejoin="round">2</text>
<text transform="matrix(0.1732,0,0,0.1782,511.14,217.94)" font-family="Liberation Sans" font-size="100" stroke="#000" stroke-width="0.40" vector-effect="non-scaling-stroke" stroke-linejoin="round">5</text>
<text transform="matrix(0.1806,0,0,0.1725,479.36,268.23)" font-family="Liberation Sans" font-size="100" stroke="#000" stroke-width="0.40" vector-effect="non-scaling-stroke" stroke-linejoin="round">10</text>
<text transform="matrix(0.1854,0,0,0.1725,451.74,333.33)" font-family="Liberation Sans" font-size="100" stroke="#000" stroke-width="0.40" vector-effect="non-scaling-stroke" stroke-linejoin="round">20</text>
<text transform="matrix(0.2888,0,0,0.2313,221.20,17.67)" font-family="Liberation Serif" font-size="100" stroke="#000" stroke-width="0.28" vector-effect="non-scaling-stroke" stroke-linejoin="round">tan</text>
<text transform="matrix(0.2544,0,0,0.2038,258.05,17.47)" font-family="Liberation Serif" font-size="100" font-style="italic" stroke="#000" stroke-width="0.35" vector-effect="non-scaling-stroke" stroke-linejoin="round">β</text>
<path d="M273.8,10.6H287.7M273.8,15.2H287.7M389.2,10.6H402.9M389.2,15.2H402.9" stroke="#000" stroke-width="1.4" fill="none"/>
<text transform="matrix(0.2200,0,0,0.2141,290.20,17.89)" font-family="Liberation Serif" font-size="100" stroke="#000" stroke-width="0.28" vector-effect="non-scaling-stroke" stroke-linejoin="round">3</text>
<text transform="matrix(0.1400,0,0,0.2252,303.90,17.31)" font-family="Liberation Serif" font-size="100" stroke="#000" stroke-width="0.28" vector-effect="non-scaling-stroke" stroke-linejoin="round">,</text>
<text transform="matrix(0.2950,0,0,0.2015,331.77,17.67)" font-family="Liberation Serif" font-size="100" font-style="italic">μ</text>
<path d="M348.5,22.8L360.5,1.2M436.5,22.8L448.8,1.2" stroke="#000" stroke-width="1.5" fill="none"/>
<text transform="matrix(0.1719,0,0,0.2107,362.10,17.90)" font-family="Liberation Serif" font-size="100" stroke="#000" stroke-width="0.28" vector-effect="non-scaling-stroke" stroke-linejoin="round">M</text>
<text transform="matrix(0.1200,0,0,0.1530,380.00,23.30)" font-family="Liberation Serif" font-size="100" stroke="#000" stroke-width="0.28" vector-effect="non-scaling-stroke" stroke-linejoin="round">1</text>
<path d="M406.5,12.7H420.9" stroke="#000" stroke-width="1.5" fill="none"/>
<text transform="matrix(0.2260,0,0,0.2141,423.70,17.89)" font-family="Liberation Serif" font-size="100" stroke="#000" stroke-width="0.28" vector-effect="non-scaling-stroke" stroke-linejoin="round">3</text>
<text transform="matrix(0.2600,0,0,0.2160,451.50,17.90)" font-family="Liberation Serif" font-size="100" stroke="#000" stroke-width="0.28" vector-effect="non-scaling-stroke" stroke-linejoin="round">4</text>
<text transform="matrix(0.1534,0,0,0.2567,77.70,73.84)" font-family="Liberation Serif" font-size="100" stroke="#000" stroke-width="0.30" vector-effect="non-scaling-stroke" stroke-linejoin="round">(</text>
<text transform="matrix(0.2809,0,0,0.2292,84.70,73.77)" font-family="Liberation Serif" font-size="100" stroke="#000" stroke-width="0.30" vector-effect="non-scaling-stroke" stroke-linejoin="round">a</text>
<text transform="matrix(0.1534,0,0,0.2567,98.80,73.84)" font-family="Liberation Serif" font-size="100" stroke="#000" stroke-width="0.30" vector-effect="non-scaling-stroke" stroke-linejoin="round">)</text>
<text transform="matrix(0.2874,0,0,0.2468,105.90,74.35)" font-family="Liberation Serif" font-size="100" font-style="italic" stroke="#000" stroke-width="0.30" vector-effect="non-scaling-stroke" stroke-linejoin="round">γ</text>
<text transform="matrix(0.2140,0,0,0.2411,119.20,73.76)" font-family="Liberation Serif" font-size="100" stroke="#000" stroke-width="0.30" vector-effect="non-scaling-stroke" stroke-linejoin="round">b</text>
<text transform="matrix(0.2244,0,0,0.2575,131.67,74.13)" font-family="Liberation Serif" font-size="100" stroke="#000" stroke-width="0.30" vector-effect="non-scaling-stroke" stroke-linejoin="round">j</text>
<text transform="matrix(0.1836,0,0,0.2382,140.30,73.80)" font-family="Liberation Serif" font-size="100" stroke="#000" stroke-width="0.30" vector-effect="non-scaling-stroke" stroke-linejoin="round">E</text>
<path d="M137.9,79.2L149.9,55.7" stroke="#000" stroke-width="1.3" fill="none"/>
<text transform="matrix(0.1393,0,0,0.1466,151.80,78.20)" font-family="Liberation Serif" font-size="100" stroke="#000" stroke-width="0.30" vector-effect="non-scaling-stroke" stroke-linejoin="round">T</text>
<text transform="matrix(0.1594,0,0,0.2567,352.00,73.84)" font-family="Liberation Serif" font-size="100" stroke="#000" stroke-width="0.30" vector-effect="non-scaling-stroke" stroke-linejoin="round">(</text>
<text transform="matrix(0.1940,0,0,0.2411,361.70,73.76)" font-family="Liberation Serif" font-size="100" stroke="#000" stroke-width="0.30" vector-effect="non-scaling-stroke" stroke-linejoin="round">b</text>
<text transform="matrix(0.1564,0,0,0.2567,373.50,73.84)" font-family="Liberation Serif" font-size="100" stroke="#000" stroke-width="0.30" vector-effect="non-scaling-stroke" stroke-linejoin="round">)</text>
<text transform="matrix(0.2120,0,0,0.2411,384.00,73.76)" font-family="Liberation Serif" font-size="100" stroke="#000" stroke-width="0.30" vector-effect="non-scaling-stroke" stroke-linejoin="round">b</text>
<text transform="matrix(0.2120,0,0,0.2411,397.70,73.76)" font-family="Liberation Serif" font-size="100" stroke="#000" stroke-width="0.30" vector-effect="non-scaling-stroke" stroke-linejoin="round">b</text>
<text transform="matrix(0.2100,0,0,0.2411,410.90,73.76)" font-family="Liberation Serif" font-size="100" stroke="#000" stroke-width="0.30" vector-effect="non-scaling-stroke" stroke-linejoin="round">b</text>
<text transform="matrix(0.2211,0,0,0.2575,421.66,74.13)" font-family="Liberation Serif" font-size="100" stroke="#000" stroke-width="0.30" vector-effect="non-scaling-stroke" stroke-linejoin="round">j</text>
<text transform="matrix(0.1738,0,0,0.2382,430.20,73.80)" font-family="Liberation Serif" font-size="100" stroke="#000" stroke-width="0.30" vector-effect="non-scaling-stroke" stroke-linejoin="round">E</text>
<path d="M427.6,79.2L439.9,55.7" stroke="#000" stroke-width="1.3" fill="none"/>
<text transform="matrix(0.1311,0,0,0.1466,441.30,78.20)" font-family="Liberation Serif" font-size="100" stroke="#000" stroke-width="0.30" vector-effect="non-scaling-stroke" stroke-linejoin="round">T</text>
<text transform="matrix(0.1517,0,0,0.2046,156.80,403.60)" font-family="Liberation Serif" font-size="100" stroke="#000" stroke-width="0.28" vector-effect="non-scaling-stroke" stroke-linejoin="round">M</text>
<text transform="matrix(0.1633,0,0,0.1665,172.75,409.06)" font-family="Liberation Serif" font-size="100" font-style="italic" stroke="#000" stroke-width="0.28" vector-effect="non-scaling-stroke" stroke-linejoin="round">χ</text>
<text transform="matrix(0.1519,0,0,0.0727,171.80,400.60)" font-family="Liberation Serif" font-size="100" stroke="#000" stroke-width="0.50" vector-effect="non-scaling-stroke" stroke-linejoin="round">~</text>
<text transform="matrix(0.0900,0,0,0.0919,184.80,403.51)" font-family="Liberation Serif" font-size="100" font-weight="bold" stroke="#000" stroke-width="0.20" vector-effect="non-scaling-stroke" stroke-linejoin="round">0</text>
<text transform="matrix(0.0720,0,0,0.0939,181.20,413.40)" font-family="Liberation Serif" font-size="100" font-weight="bold" stroke="#000" stroke-width="0.20" vector-effect="non-scaling-stroke" stroke-linejoin="round">1</text>
<text transform="matrix(0.2145,0,0,0.2204,198.20,403.32)" font-family="Liberation Serif" font-size="100" stroke="#000" stroke-width="0.28" vector-effect="non-scaling-stroke" stroke-linejoin="round">(GeV)</text>
<text transform="matrix(0.1517,0,0,0.2046,433.50,403.60)" font-family="Liberation Serif" font-size="100" stroke="#000" stroke-width="0.28" vector-effect="non-scaling-stroke" stroke-linejoin="round">M</text>
<text transform="matrix(0.1633,0,0,0.1665,449.45,409.06)" font-family="Liberation Serif" font-size="100" font-style="italic" stroke="#000" stroke-width="0.28" vector-effect="non-scaling-stroke" stroke-linejoin="round">χ</text>
<text transform="matrix(0.1519,0,0,0.0727,448.50,400.60)" font-family="Liberation Serif" font-size="100" stroke="#000" stroke-width="0.50" vector-effect="non-scaling-stroke" stroke-linejoin="round">~</text>
<text transform="matrix(0.0900,0,0,0.0919,461.50,403.51)" font-family="Liberation Serif" font-size="100" font-weight="bold" stroke="#000" stroke-width="0.20" vector-effect="non-scaling-stroke" stroke-linejoin="round">0</text>
<text transform="matrix(0.0720,0,0,0.0939,457.90,413.40)" font-family="Liberation Serif" font-size="100" font-weight="bold" stroke="#000" stroke-width="0.20" vector-effect="non-scaling-stroke" stroke-linejoin="round">1</text>
<text transform="matrix(0.2145,0,0,0.2204,474.90,403.32)" font-family="Liberation Serif" font-size="100" stroke="#000" stroke-width="0.28" vector-effect="non-scaling-stroke" stroke-linejoin="round">(GeV)</text>
<g transform="translate(19,238) rotate(-90)">
<text transform="matrix(0.1672,0,0,0.2000,0.00,0.00)" font-family="Liberation Serif" font-size="100" stroke="#000" stroke-width="0.28" vector-effect="non-scaling-stroke" stroke-linejoin="round">m</text>
<text transform="matrix(0.2140,0,0,0.1266,15.80,5.00)" font-family="Liberation Serif" font-size="100" stroke="#000" stroke-width="0.28" vector-effect="non-scaling-stroke" stroke-linejoin="round">h</text>
<text transform="matrix(0.2250,0,0,0.2061,34.00,-1.18)" font-family="Liberation Serif" font-size="100" stroke="#000" stroke-width="0.28" vector-effect="non-scaling-stroke" stroke-linejoin="round">(GeV)</text>
</g>
</g>
</svg></body></html>
